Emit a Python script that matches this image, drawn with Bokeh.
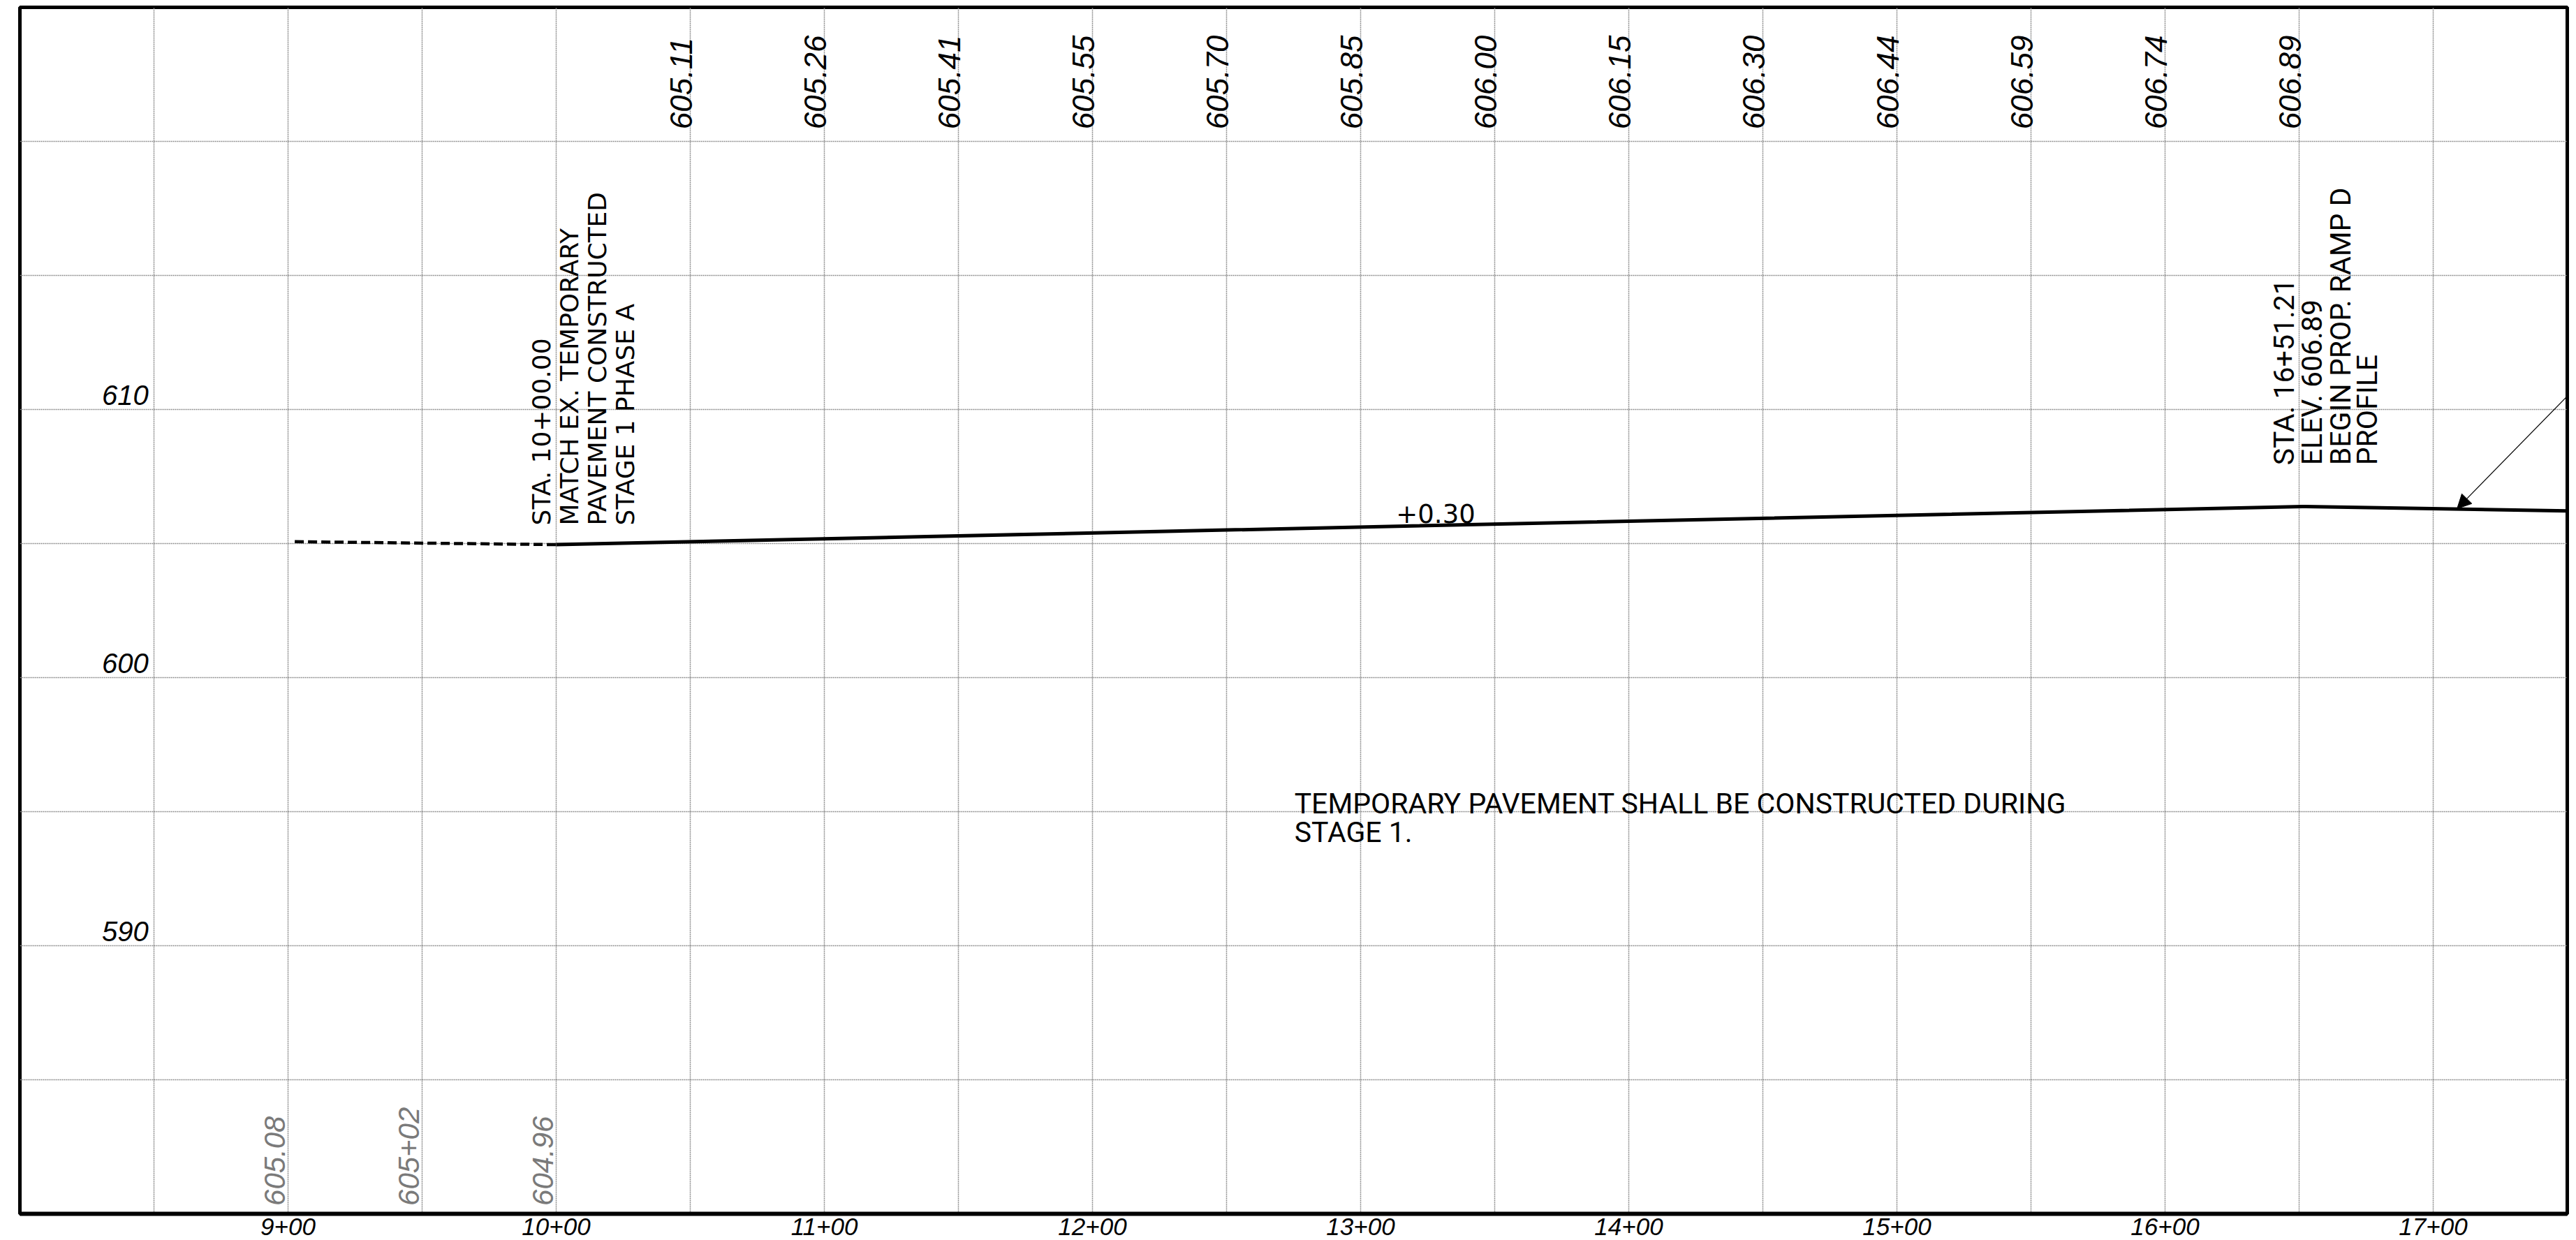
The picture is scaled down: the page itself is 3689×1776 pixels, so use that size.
from math import pi
from bokeh.plotting import figure
from bokeh.models import FixedTicker, Arrow, NormalHead
from bokeh.core.properties import value
from bokeh.embed import file_html
from bokeh.resources import INLINE

# ---- data -----------------------------------------------------------------
existing_sta = [902.5, 1000.0]
existing_elev = [605.07, 604.96]
profile_sta = [1000.0, 1651.21, 1750.0]
profile_elev = [604.96, 606.38, 606.22]

prop_sta = [1050, 1100, 1150, 1200, 1250, 1300, 1350, 1400, 1450, 1500, 1550, 1600, 1650]
prop_labels = ["605.11", "605.26", "605.41", "605.55", "605.70", "605.85", "606.00",
               "606.15", "606.30", "606.44", "606.59", "606.74", "606.89"]
exist_sta = [900, 950, 1000]
exist_labels = ["605.08", "605+02", "604.96"]

elev_ticks = [610, 600, 590]
sta_ticks = [900, 1000, 1100, 1200, 1300, 1400, 1500, 1600, 1700]
sta_labels = ["9+00", "10+00", "11+00", "12+00", "13+00", "14+00", "15+00", "16+00", "17+00"]
grid_x = [850, 900, 950, 1000, 1050, 1100, 1150, 1200, 1250, 1300, 1350, 1400, 1450,
          1500, 1550, 1600, 1650, 1700]
grid_y = [585, 590, 595, 600, 605, 610, 615, 620]

note_left = ["STA. 10+00.00", "MATCH EX. TEMPORARY", "PAVEMENT CONSTRUCTED", "STAGE 1 PHASE A"]
note_right = ["STA. 16+51.21", "ELEV. 606.89", "BEGIN PROP. RAMP D", "PROFILE"]
note_center = ["TEMPORARY PAVEMENT SHALL BE CONSTRUCTED DURING", "STAGE 1."]
grade_label = "+0.30"
# ---------------------------------------------------------------------------

ROBOTO = value("Roboto")
DEJAVU = value("DejaVu Sans")
SANS = value("Liberation Sans")

p = figure(width=3689, height=1776, output_backend="svg", toolbar_location=None,
           x_range=(800, 1750), y_range=(580, 625),
           min_border_left=28, min_border_right=13, min_border_top=10, min_border_bottom=38,
           background_fill_color="white", border_fill_color="white")

p.outline_line_color = "black"
p.outline_line_width = 5

p.xaxis.ticker = FixedTicker(ticks=sta_ticks)
p.xaxis.major_label_overrides = dict(zip(sta_ticks, sta_labels))
p.xaxis.major_label_text_font = "Liberation Sans"
p.xaxis.major_label_text_font_style = "italic"
p.xaxis.major_label_text_font_size = "35px"
p.xaxis.major_label_text_color = "black"
p.xaxis.major_label_standoff = 0
p.xaxis.axis_line_color = "black"
p.xaxis.axis_line_width = 6
p.xaxis.major_tick_line_color = None
p.xaxis.minor_tick_line_color = None
p.yaxis.visible = False

p.xgrid.ticker = FixedTicker(ticks=grid_x)
p.ygrid.ticker = FixedTicker(ticks=grid_y)
for g in (p.xgrid, p.ygrid):
    g.grid_line_color = "#8c8c8c"
    g.grid_line_width = 1.5
    g.grid_line_dash = "2 1"

p.line(existing_sta, existing_elev, line_color="black", line_width=4.5, line_dash="13 6")
p.line(profile_sta, profile_elev, line_color="black", line_width=5)

p.add_layout(Arrow(end=NormalHead(size=20, line_color="black", fill_color="black", line_width=1),
                   x_start=1751, y_start=610.6, x_end=1708.9, y_end=606.3,
                   line_color="black", line_width=1.2))

# elevations along the top (proposed) and the bottom (existing, grey)
p.text(prop_sta, [620.45] * len(prop_sta), text=prop_labels, angle=pi / 2, x_offset=-13,
       text_font=SANS, text_font_style="italic", text_font_size="44px",
       text_color="black", text_align="left", text_baseline="alphabetic")
p.text(exist_sta, [580.3] * len(exist_sta), text=exist_labels, angle=pi / 2, x_offset=-19,
       text_font=SANS, text_font_style="italic", text_font_size="42px",
       text_color="#7a7a7a", text_align="left", text_baseline="alphabetic")

# elevation scale, inside the frame
p.text([848] * len(elev_ticks), [e + 0.16 for e in elev_ticks], text=[str(e) for e in elev_ticks],
       y_offset=-14, text_font=SANS, text_font_style="italic", text_font_size="40px",
       text_color="black", text_align="right", text_baseline="alphabetic")

# rotated notes
left_x = [998.4, 1008.8, 1019.4, 1029.8]
p.text(left_x, [605.68] * 4, text=note_left, angle=pi / 2, x_offset=-15,
       text_font=DEJAVU, text_font_size="36px", text_color="black",
       text_align="left", text_baseline="alphabetic")
right_x = [1648.2, 1658.6, 1669.3, 1679.4]
p.text(right_x, [607.92] * 4, text=note_right, angle=pi / 2, x_offset=-15,
       text_font=ROBOTO, text_font_size="41px", text_color="black",
       text_align="left", text_baseline="alphabetic")

# centre note and grade
p.text([1275.3, 1275.3], [594.9, 593.85], text=note_center, y_offset=-15,
       text_font=ROBOTO, text_font_size="41px", text_color="black",
       text_align="left", text_baseline="alphabetic")
p.text([1328], [605.78], text=[grade_label], y_offset=-13,
       text_font=DEJAVU, text_font_size="37px", text_color="black",
       text_align="center", text_baseline="alphabetic")

open("out.html", "w").write(file_html(p, INLINE))
